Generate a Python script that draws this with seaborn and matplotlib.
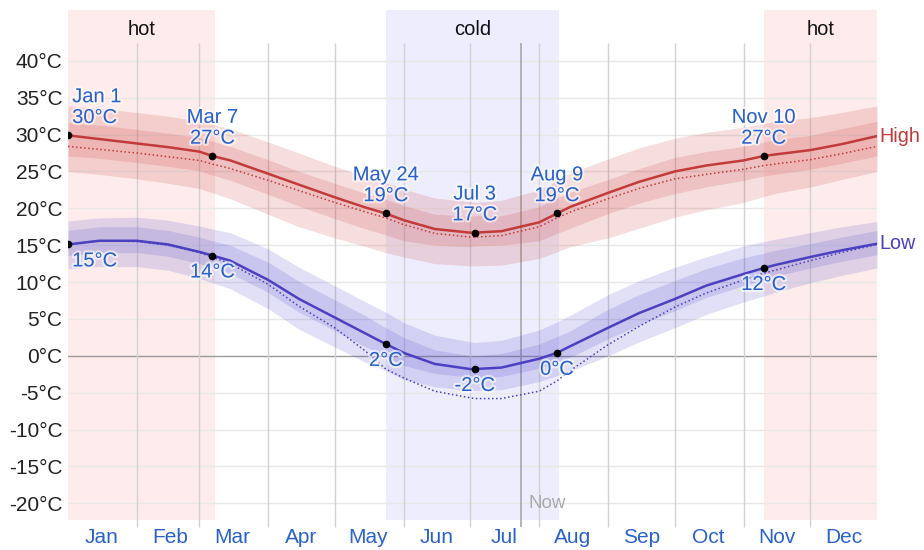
import matplotlib
matplotlib.use("Agg")
import matplotlib.pyplot as plt
import matplotlib.dates as mdates
import matplotlib.patheffects as pe
import seaborn as sns
import pandas as pd

# days sampled through the year (month-day)
days = ['01-01', '01-15', '02-01', '02-15', '03-01', '03-07', '03-15', '04-01', '04-15',
        '05-01', '05-15', '05-24', '06-01', '06-15', '07-01', '07-03', '07-15', '08-01',
        '08-09', '08-15', '09-01', '09-15', '10-01', '10-15', '11-01', '11-10', '11-15',
        '12-01', '12-15', '12-31']

# daily high temperature (mean, feels-like, percentile bands)
high_mean = [29.9, 29.4, 28.8, 28.3, 27.7, 27.1, 26.5, 24.7, 23.2, 21.5, 20.1, 19.3, 18.4, 17.2, 16.7,
             16.7, 16.9, 18.1, 19.3, 20.2, 22.1, 23.6, 25.0, 25.8, 26.5, 27.1, 27.3, 27.9, 28.7, 29.8]
high_feels = [28.4, 28.0, 27.5, 27.0, 26.5, 26.0, 25.4, 23.8, 22.4, 20.8, 19.5, 18.7, 17.8, 16.6, 16.1,
              16.1, 16.3, 17.5, 18.7, 19.5, 21.3, 22.7, 24.0, 24.6, 25.3, 25.8, 26.0, 26.6, 27.4, 28.4]
high_p90 = [33.9, 33.6, 33.0, 32.5, 31.8, 31.4, 30.8, 29.0, 27.5, 25.7, 24.3, 23.5, 22.6, 21.4, 20.9,
            20.8, 21.1, 22.5, 23.7, 24.8, 26.7, 28.2, 29.5, 30.3, 31.0, 31.5, 31.8, 32.3, 33.0, 33.9]
high_p75 = [31.6, 31.3, 30.7, 30.2, 29.6, 29.1, 28.4, 26.6, 25.0, 23.4, 22.0, 21.2, 20.4, 19.2, 18.9,
            19.0, 19.0, 20.2, 21.4, 22.2, 23.9, 25.4, 26.9, 27.7, 28.4, 29.0, 29.3, 29.9, 30.8, 31.8]
high_p25 = [27.1, 26.8, 26.2, 25.7, 25.1, 24.5, 23.8, 21.9, 20.3, 18.6, 17.2, 16.4, 15.6, 15.0, 14.8,
            14.9, 15.0, 15.6, 16.6, 17.3, 19.3, 20.7, 22.0, 22.9, 23.8, 24.4, 24.6, 25.3, 26.1, 27.1]
high_p10 = [25.0, 24.6, 24.0, 23.4, 22.7, 22.1, 21.3, 19.2, 17.5, 16.0, 14.8, 14.0, 13.4, 12.5, 12.2,
            12.2, 12.3, 13.2, 14.1, 14.8, 16.0, 17.3, 18.8, 19.8, 20.8, 21.6, 22.0, 22.9, 23.9, 25.0]

# daily low temperature
low_mean = [15.1, 15.6, 15.6, 15.1, 14.1, 13.6, 12.9, 10.3, 7.7, 5.2, 3.0, 1.6, 0.4, -1.1, -1.8,
            -1.8, -1.6, -0.4, 0.4, 1.3, 3.8, 5.8, 7.7, 9.5, 11.1, 11.9, 12.3, 13.4, 14.3, 15.2]
low_feels = [15.1, 15.6, 15.5, 15.0, 14.0, 13.4, 12.5, 9.7, 6.7, 3.8, 0.6, -1.8, -3.0, -4.8, -5.7,
             -5.8, -5.8, -4.8, -3.4, -2.0, 1.5, 4.0, 6.6, 8.5, 10.3, 11.2, 11.6, 12.9, 14.0, 15.1]
low_p90 = [18.3, 18.7, 18.8, 18.4, 17.6, 17.2, 16.7, 14.5, 12.0, 9.5, 7.3, 5.9, 4.5, 2.8, 1.9,
           1.8, 2.1, 3.5, 4.6, 5.5, 8.3, 10.2, 12.0, 13.4, 14.9, 15.5, 15.8, 16.7, 17.5, 18.2]
low_p75 = [17.0, 17.5, 17.5, 17.0, 16.1, 15.6, 15.0, 12.7, 10.1, 7.6, 5.4, 3.8, 2.5, 0.8, 0.0,
           0.0, 0.3, 1.6, 2.6, 3.4, 6.3, 8.3, 10.2, 11.8, 13.3, 13.9, 14.3, 15.2, 16.1, 17.0]
low_p25 = [13.6, 14.0, 14.0, 13.5, 12.5, 12.0, 11.2, 8.6, 5.9, 3.4, 1.2, -0.1, -1.3, -2.4, -2.9,
           -2.9, -2.8, -1.7, -0.9, -0.2, 2.3, 4.2, 6.1, 7.9, 9.5, 10.3, 10.8, 11.9, 12.8, 13.7]
low_p10 = [11.8, 12.1, 12.1, 11.6, 10.5, 9.9, 9.1, 6.4, 3.6, 1.2, -0.9, -2.0, -3.2, -4.2, -4.7,
           -4.7, -4.6, -3.5, -2.7, -2.1, 0.0, 1.9, 3.8, 5.6, 7.3, 8.1, 8.6, 9.9, 10.9, 11.9]

key_days = ['01-01', '03-07', '05-24', '07-03', '08-09', '11-10']
key_names = ['Jan 1', 'Mar 7', 'May 24', 'Jul 3', 'Aug 9', 'Nov 10']

hot_seasons = [('01-01', '03-08'), ('11-10', '12-31')]
cold_seasons = [('05-24', '08-10')]
now_day = '07-24'
yticks = list(range(-20, 45, 5))

YEAR = '2023-'
HIGH_C = '#c23a3a'
LOW_C = '#4a40c0'
TXT_C = '#2a62cc'


def d(s):
    return pd.Timestamp(YEAR + s)


df = pd.DataFrame({'date': [d(s) for s in days],
                   'high': high_mean, 'high_feels': high_feels,
                   'low': low_mean, 'low_feels': low_feels})

sns.set_theme(style="white")
plt.rcParams['font.family'] = ['Liberation Sans', 'DejaVu Sans']

fig = plt.figure(figsize=(9.24, 5.5), dpi=100)
ax = fig.add_axes([68 / 924, 30 / 550, 809 / 924, 510 / 550])
ymin, ymax = -22.27, 46.9
ax.set_xlim(d('01-01'), d('12-31'))
ax.set_ylim(ymin, ymax)

# seasons
for a, b in hot_seasons:
    ax.axvspan(d(a), d(b), color='#fdeceb', zorder=0, lw=0)
    ax.text(d(a) + (d(b) - d(a)) / 2, 44.3, 'hot', ha='center', va='center', fontsize=14.5, color='#111111')
for a, b in cold_seasons:
    ax.axvspan(d(a), d(b), color='#ededfd', zorder=0, lw=0)
    ax.text(d(a) + (d(b) - d(a)) / 2, 44.3, 'cold', ha='center', va='center', fontsize=14.5, color='#111111')

# grid
for t in yticks:
    ax.axhline(t, color='#9a9a9a' if t == 0 else '#e8e8e8', lw=1.0, zorder=1)
month_starts = [d(f'{m:02d}-01') for m in range(2, 13)]
ax.vlines(month_starts, -23.2, 42.4, color='#d2d2d2', lw=1.0, zorder=1, clip_on=False)
ax.vlines([d(now_day)], -23.2, 42.4, color='#a8a8a8', lw=1.2, zorder=1, clip_on=False)
ax.text(d(now_day) + pd.Timedelta(days=3), -20, 'Now', color='#aaaaaa', fontsize=13.5, va='center', ha='left')

# percentile bands
dates = df['date']
ax.fill_between(dates, high_p10, high_p90, color='#cc3c3c', alpha=0.17, lw=0, zorder=2)
ax.fill_between(dates, high_p25, high_p75, color='#cc3c3c', alpha=0.17, lw=0, zorder=2)
ax.fill_between(dates, low_p10, low_p90, color='#5048cc', alpha=0.17, lw=0, zorder=2)
ax.fill_between(dates, low_p25, low_p75, color='#5048cc', alpha=0.17, lw=0, zorder=2)

# lines
sns.lineplot(data=df, x='date', y='high_feels', color=HIGH_C, lw=1.1, linestyle=':', ax=ax, zorder=3)
sns.lineplot(data=df, x='date', y='low_feels', color=LOW_C, lw=1.1, linestyle=':', ax=ax, zorder=3)
sns.lineplot(data=df, x='date', y='high', color=HIGH_C, lw=1.8, ax=ax, zorder=4)
sns.lineplot(data=df, x='date', y='low', color=LOW_C, lw=1.8, ax=ax, zorder=4)

# key points
key = df[df['date'].isin([d(s) for s in key_days])].reset_index(drop=True)
ax.plot(key['date'], key['high'], 'o', color='black', ms=4.5, zorder=5)
ax.plot(key['date'], key['low'], 'o', color='black', ms=4.5, zorder=5)
halo = [pe.withStroke(linewidth=3, foreground='white', alpha=0.6)]
for i, row in key.iterrows():
    first = i == 0
    ha = 'left' if first else 'center'
    dx = 3 if first else 0
    ax.annotate(f"{key_names[i]}\n{round(row['high']):d}°C", (row['date'], row['high']),
                xytext=(dx, 6), textcoords='offset points', ha=ha, va='bottom',
                fontsize=14.5, color=TXT_C, linespacing=1.12, zorder=6, path_effects=halo)
    ax.annotate(f"{round(row['low']):d}°C", (row['date'], row['low']),
                xytext=(dx, -5), textcoords='offset points', ha=ha, va='top',
                fontsize=14.5, color=TXT_C, zorder=6, path_effects=halo)

ax.text(1.003, high_mean[-1], 'High', transform=ax.get_yaxis_transform(), color=HIGH_C,
        fontsize=14.2, va='center', ha='left')
ax.text(1.003, low_mean[-1], 'Low', transform=ax.get_yaxis_transform(), color=LOW_C,
        fontsize=14.2, va='center', ha='left')

# axes
ax.set_yticks(yticks)
ax.set_yticklabels([f'{t}°C' for t in yticks], fontsize=15, color='#222222')
ax.xaxis.set_major_locator(mdates.MonthLocator(bymonthday=1))
ax.xaxis.set_major_formatter(plt.NullFormatter())
ax.xaxis.set_minor_locator(mdates.MonthLocator(bymonthday=16))
ax.xaxis.set_minor_formatter(mdates.DateFormatter('%b'))
ax.tick_params(axis='x', which='both', length=0, pad=6, labelsize=15, labelcolor=TXT_C)
ax.tick_params(axis='y', length=0, pad=4)
ax.set(xlabel='', ylabel='')
ax.grid(False)
sns.despine(ax=ax, left=True, bottom=True)

fig.savefig('out.png', dpi=100)
